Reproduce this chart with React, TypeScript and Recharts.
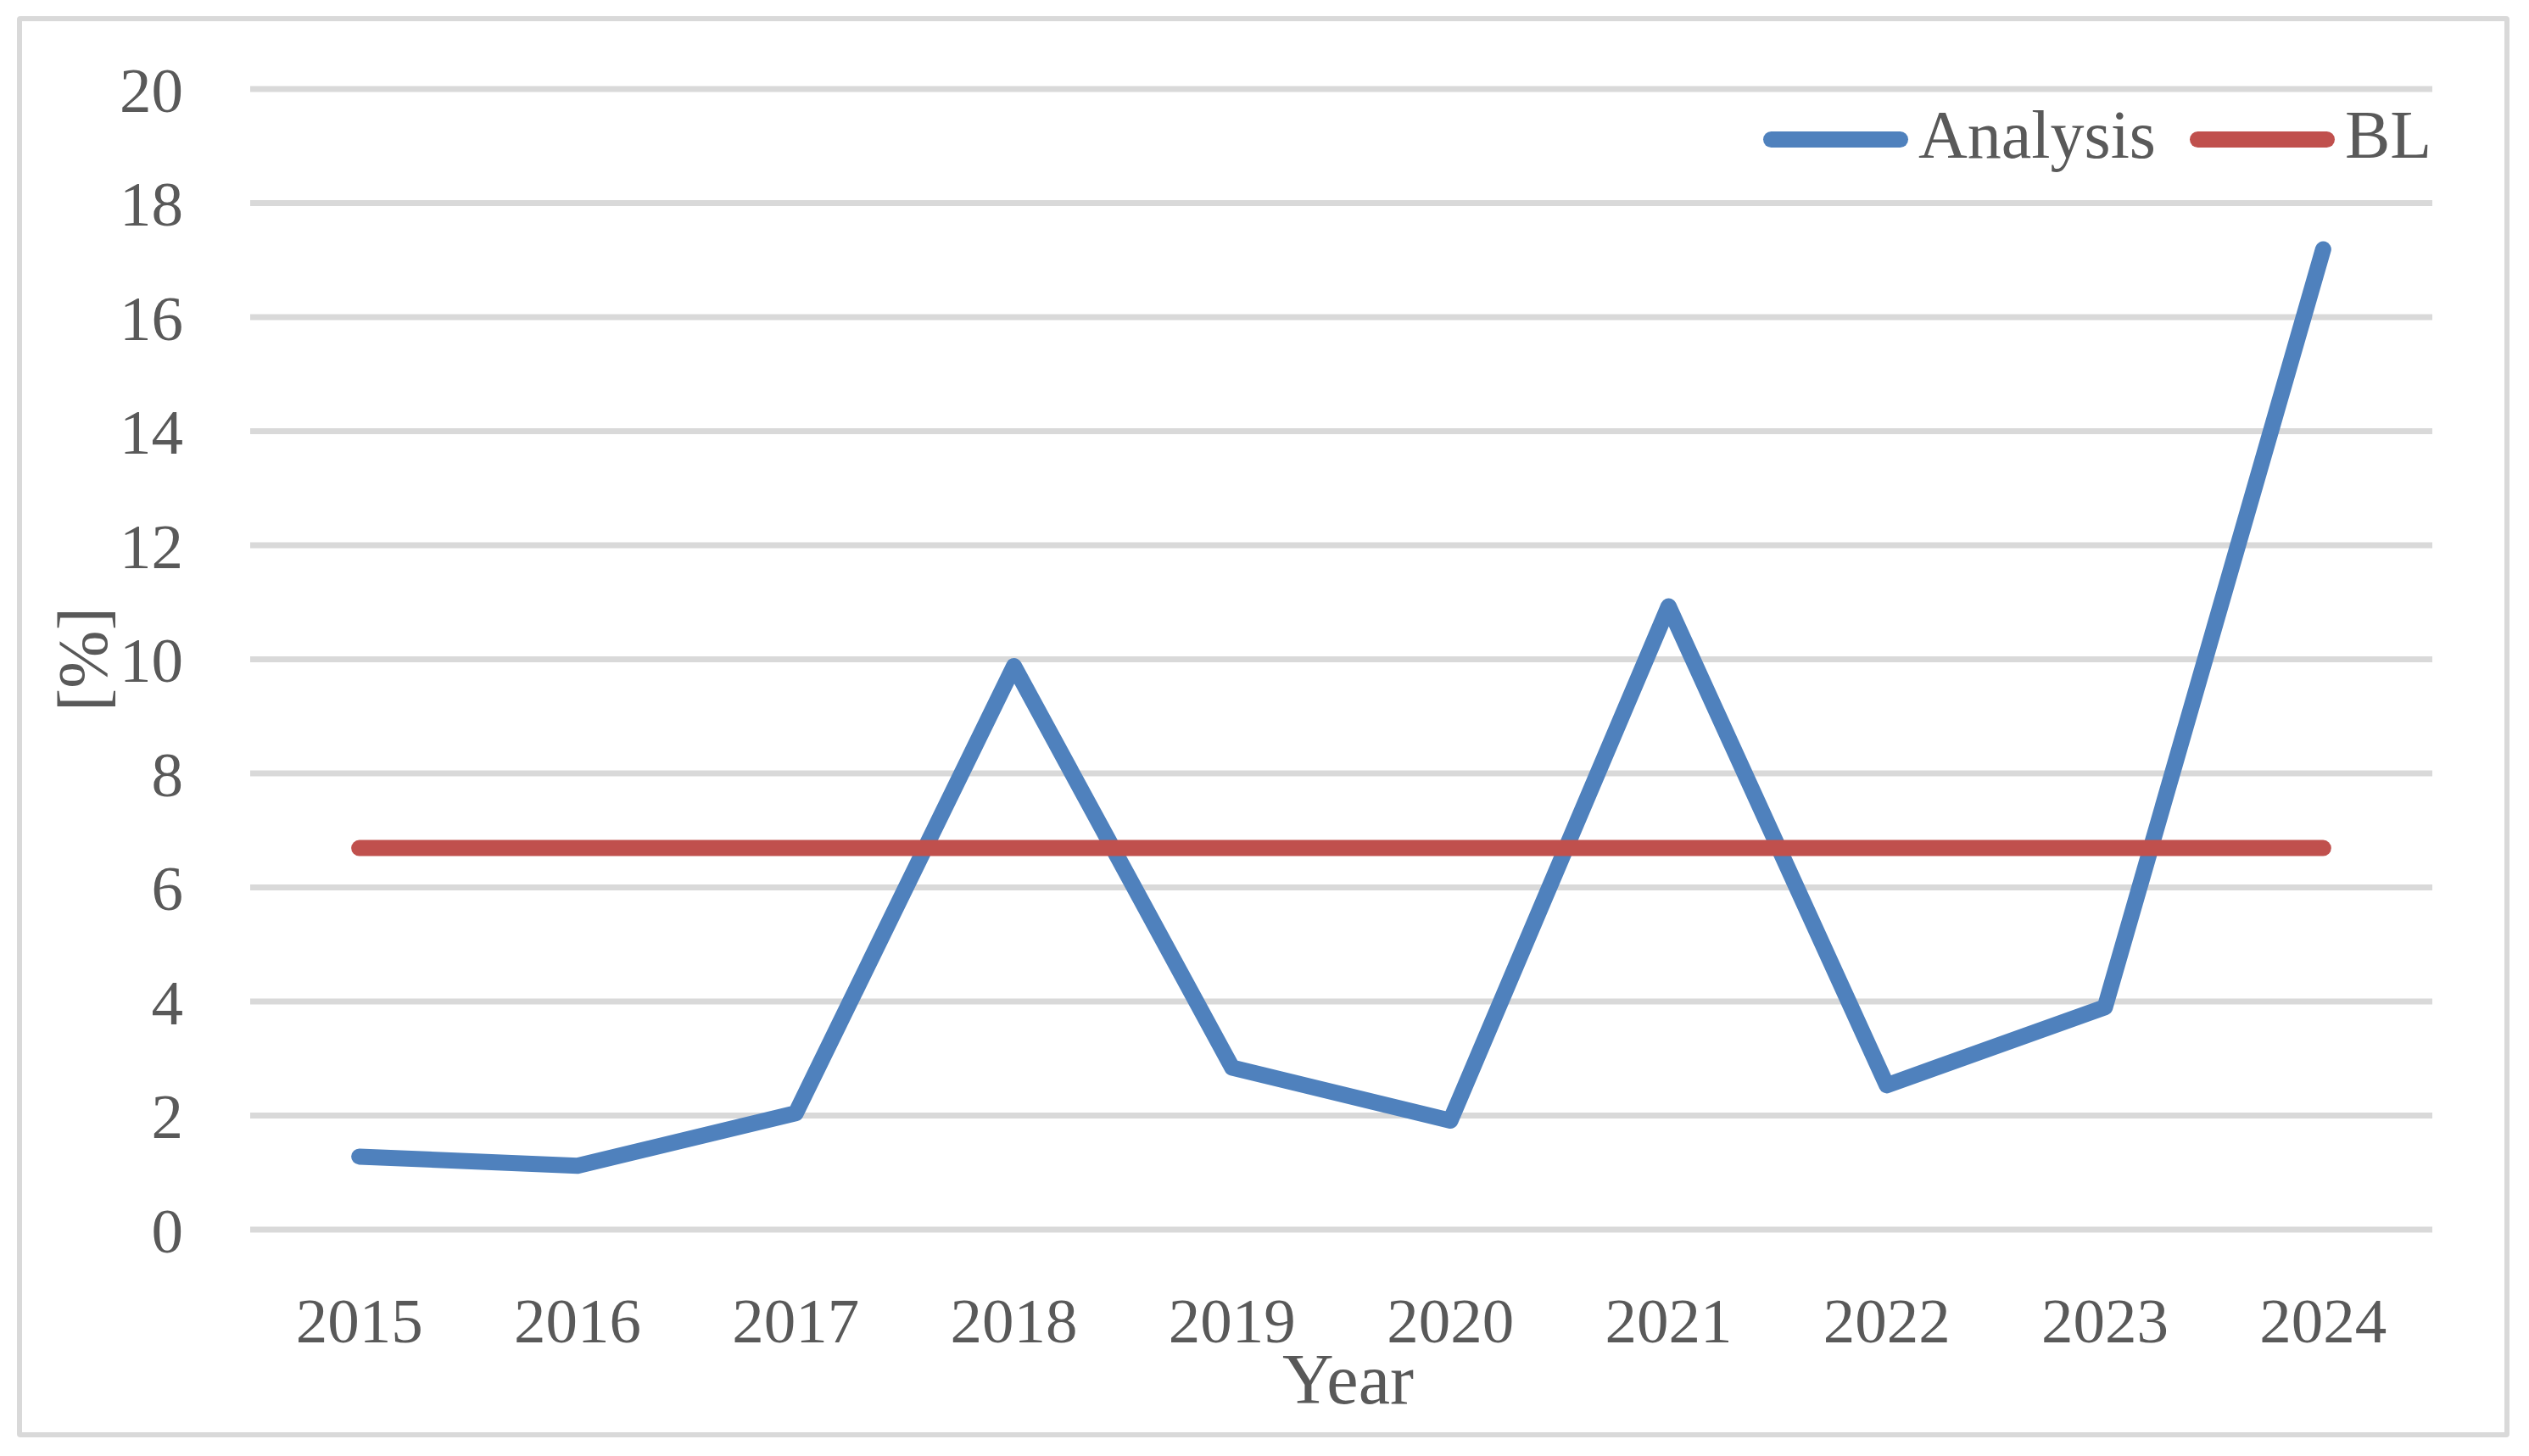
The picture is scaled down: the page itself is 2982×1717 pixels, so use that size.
import React from 'react';
import { LineChart, Line, XAxis, YAxis, CartesianGrid, Legend } from 'recharts';

const years = ['2015', '2016', '2017', '2018', '2019', '2020', '2021', '2022', '2023', '2024'];
const analysisValues = [1.28, 1.12, 2.04, 9.88, 2.84, 1.91, 10.93, 2.53, 3.9, 17.19];
const blValues = [6.69, 6.69, 6.69, 6.69, 6.69, 6.69, 6.69, 6.69, 6.69, 6.69];
const yTicks = [0, 2, 4, 6, 8, 10, 12, 14, 16, 18, 20];

const data = years.map((year, i) => ({ year, Analysis: analysisValues[i], BL: blValues[i] }));

const BLUE = '#4F81BD';
const RED = '#C0504D';
const TEXT = '#595959';
const GRID = '#D9D9D9';
const FONT = '"Liberation Serif", "Times New Roman", serif';

const LegendContent = (props: any) => {
  const payload = props.payload || [];
  return (
    <div style={{ display: 'flex', alignItems: 'center', height: 100, fontFamily: FONT }}>
      {payload.map((item: any, i: number) => (
        <div key={i} style={{ display: 'flex', alignItems: 'center', marginRight: i < payload.length - 1 ? 40 : 0 }}>
          <span
            style={{
              display: 'inline-block',
              width: 171,
              height: 19,
              marginTop: 10,
              borderRadius: 10,
              background: item.color,
              marginRight: 12,
            }}
          />
          <span style={{ fontSize: 80, lineHeight: '80px', color: TEXT }}>{item.value}</span>
        </div>
      ))}
    </div>
  );
};

const YLabel = (props: any) => {
  const vb = props.viewBox || {};
  const cy = vb.y + vb.height / 2;
  const x = 125;
  return (
    <text
      x={x}
      y={cy}
      fill={TEXT}
      fontSize={82}
      fontFamily={FONT}
      textAnchor="middle"
      transform={`rotate(-90, ${x}, ${cy})`}
    >
      [%]
    </text>
  );
};

const XLabel = (props: any) => {
  const vb = props.viewBox || {};
  return (
    <text
      x={vb.x + vb.width / 2 + 8}
      y={vb.y + 205}
      fill={TEXT}
      fontSize={84}
      fontFamily={FONT}
      textAnchor="middle"
    >
      Year
    </text>
  );
};

export default function App() {
  return (
    <div style={{ position: 'relative', width: 2982, height: 1717, background: '#fff' }}>
      <style>{`body{margin:0;background:#fff;}`}</style>
      <div
        style={{
          position: 'absolute',
          left: 20,
          top: 19,
          width: 2939,
          height: 1676,
          border: `6px solid ${GRID}`,
          borderRadius: 4,
          boxSizing: 'border-box',
        }}
      />
      <div style={{ position: 'absolute', left: 0, top: 0 }}>
        <LineChart
          width={2982}
          height={1717}
          data={data}
          margin={{ top: 105, right: 114, bottom: 0, left: 0 }}
        >
          <CartesianGrid vertical={false} stroke={GRID} strokeWidth={7} />
          <XAxis
            dataKey="year"
            height={267}
            padding={{ left: 128.65, right: 128.65 }}
            axisLine={false}
            tickLine={false}
            tickSize={0}
            tickMargin={80}
            tick={{ fill: TEXT, fontSize: 75, fontFamily: FONT }}
            interval={0}
            label={<XLabel />}
          />
          <YAxis
            width={295}
            domain={[0, 20]}
            ticks={yTicks}
            axisLine={false}
            tickLine={false}
            tickSize={0}
            tickMargin={79}
            tick={{ fill: TEXT, fontSize: 75, fontFamily: FONT }}
            label={<YLabel />}
          />
          <Legend
            layout="vertical"
            align="center"
            verticalAlign="middle"
            content={<LegendContent />}
            wrapperStyle={{ position: 'absolute', left: 2079, top: 109, width: 'auto', height: 100 }}
          />
          <Line
            type="linear"
            dataKey="Analysis"
            stroke={BLUE}
            strokeWidth={19}
            strokeLinecap="round"
            strokeLinejoin="round"
            dot={false}
            activeDot={false}
            isAnimationActive={false}
          />
          <Line
            type="linear"
            dataKey="BL"
            stroke={RED}
            strokeWidth={19}
            strokeLinecap="round"
            strokeLinejoin="round"
            dot={false}
            activeDot={false}
            isAnimationActive={false}
          />
        </LineChart>
      </div>
    </div>
  );
}
